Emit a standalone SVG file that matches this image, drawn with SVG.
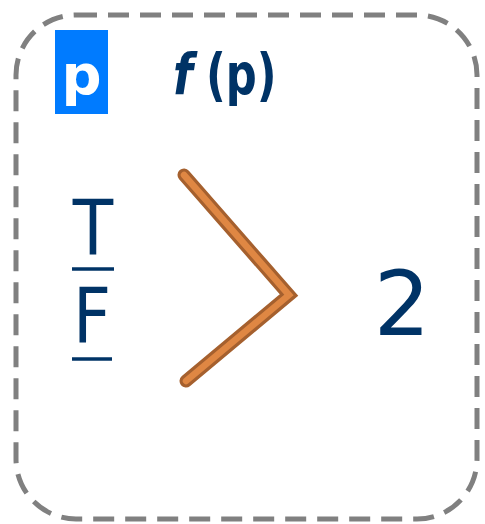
<svg xmlns="http://www.w3.org/2000/svg" width="485" height="524" viewBox="0 0 485 524">
<style>
.frame{fill:none;stroke:#808080;stroke-width:5;stroke-dasharray:21 11}
.navy{fill:#003366;font-family:"DejaVu Sans",sans-serif}
.bold{font-weight:bold;font-size:57px}
.ul{stroke:#003366;stroke-width:3.5}
.chev-o{fill:none;stroke:#a5602e;stroke-width:13;stroke-linejoin:miter;stroke-linecap:round}
.chev-i{fill:none;stroke:#df8743;stroke-width:6.5;stroke-linejoin:miter;stroke-linecap:round}
</style>
<rect class="frame" x="16" y="15" width="461" height="504" rx="60" ry="60"/>
<g id="param">
<rect x="55" y="30" width="53" height="84" fill="#007bff"/>
<text x="81.5" y="94" text-anchor="middle" font-family="DejaVu Sans,sans-serif" font-weight="bold" font-size="56" fill="#ffffff">p</text>
</g>
<g id="title">
<text class="navy bold" transform="translate(173,94) scale(0.8,1)" x="0" y="0" font-style="italic">f</text>
<text class="navy bold" transform="translate(206,94) scale(0.76,1)" x="0" y="0">(p)</text>
</g>
<g id="values">
<text class="navy" transform="translate(93,255) scale(0.86,1)" x="0" y="0" text-anchor="middle" font-size="77">T</text>
<line class="ul" x1="72" y1="269" x2="114" y2="269"/>
<text class="navy" transform="translate(92,343) scale(0.86,1)" x="0" y="0" text-anchor="middle" font-size="77">F</text>
<line class="ul" x1="72" y1="359" x2="112" y2="359"/>
</g>
<g id="connectors">
<polyline class="chev-o" points="184,175 289,295 186,381"/>
<polyline class="chev-i" points="184,175 289,295 186,381"/>
</g>
<g id="result">
<text class="navy" x="402" y="335" text-anchor="middle" font-size="89">2</text>
</g>
</svg>
